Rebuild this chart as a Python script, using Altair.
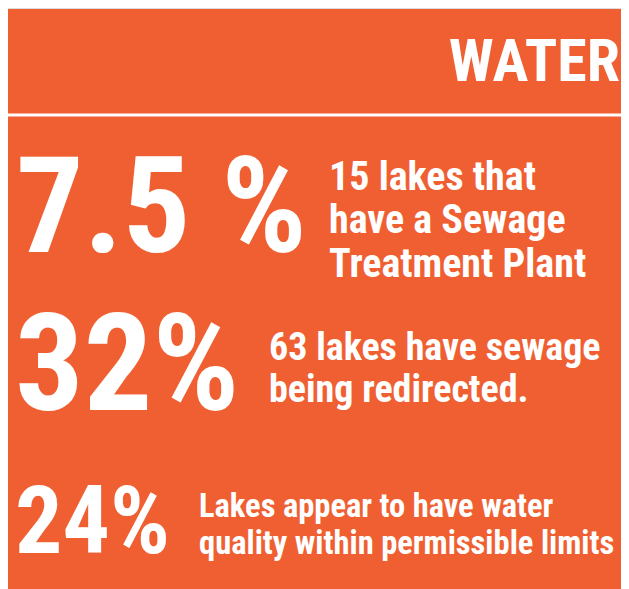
import altair as alt
import pandas as pd

# ---- content ----
title = ["WATER"]
big_values = ["7.5 %", "32%", "24%"]
desc_lines = [
    ["15 lakes that", "have a Sewage", "Treatment Plant"],
    ["63 lakes have sewage", "being redirected."],
    ["Lakes appear to have water", "quality within permissible limits"],
]

# ---- layout (image pixel coordinates) ----
M = 8
VW, VH = 613, 581
ORANGE = "#F05F32"
FONT = "Roboto Condensed, DejaVu Sans Condensed, sans-serif"

big_pos = [(16, 252, 134), (15, 410, 136), (15, 553, 94)]
desc_pos = [(329, [190, 233, 277], 40), (269, [360, 402], 38), (199, [517, 554], 32.5)]

xs = alt.Scale(domain=[M, M + VW], range=[0, VW])
ys = alt.Scale(domain=[M, M + VH], range=[0, VH])

bg = pd.DataFrame([{"x": 5, "x2": 640, "y": 9, "y2": 600}])
line = pd.DataFrame([{"x": 6, "x2": 640, "y": 115}])

title_df = pd.DataFrame([{"t": title[0], "x": 620, "y": 81, "fs": 60}])
big_df = pd.DataFrame([
    {"t": v, "x": p[0], "y": p[1], "fs": p[2]} for v, p in zip(big_values, big_pos)
])
rows = []
for lines, (x0, bls, fs) in zip(desc_lines, desc_pos):
    for ln, b in zip(lines, bls):
        rows.append({"t": ln, "x": x0, "y": b, "fs": fs})
desc_df = pd.DataFrame(rows)

base_x = lambda f: alt.X(f"{f}:Q", scale=xs, axis=None)
base_y = lambda f: alt.Y(f"{f}:Q", scale=ys, axis=None)

bg_layer = alt.Chart(bg).mark_rect(color=ORANGE, clip=True).encode(
    x=base_x("x"), x2="x2:Q", y=base_y("y"), y2="y2:Q"
)
line_layer = alt.Chart(line).mark_rule(color="white", strokeWidth=3, clip=True).encode(
    x=base_x("x"), x2="x2:Q", y=base_y("y")
)

def text_layer(df, align):
    return alt.Chart(df).mark_text(
        align=align, baseline="alphabetic", color="white",
        font=FONT, fontWeight="bold"
    ).encode(
        x=base_x("x"), y=base_y("y"), text="t:N",
        size=alt.Size("fs:Q", scale=None, legend=None)
    )

chart = alt.layer(
    bg_layer, line_layer,
    text_layer(title_df, "right"),
    text_layer(big_df, "left"),
    text_layer(desc_df, "left"),
).properties(
    width=VW, height=VH, padding=0, autosize="none"
).configure_view(stroke=None).configure(background="white")

chart.save("out.html", embed_options={"renderer": "svg", "actions": False})
